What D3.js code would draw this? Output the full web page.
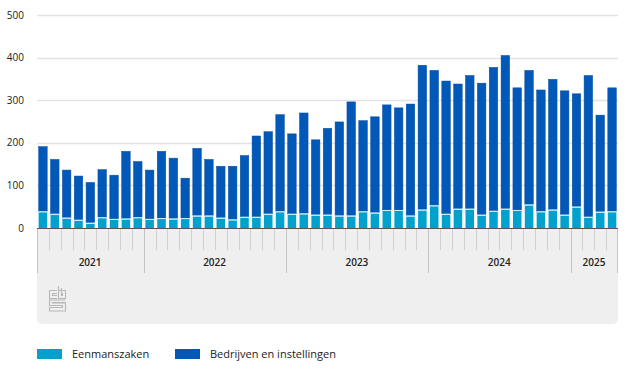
<!DOCTYPE html>
<html><head><meta charset="utf-8">
<script src="https://cdn.jsdelivr.net/npm/d3@7"></script>
<style>
html,body{margin:0;padding:0;background:#fff;}
svg{display:block;font-family:"Open Sans",sans-serif;}
</style></head>
<body><svg id="c" width="625" height="369"></svg>
<script>
const periods = [
 "2021-04","2021-05","2021-06","2021-07","2021-08","2021-09","2021-10","2021-11","2021-12",
 "2022-01","2022-02","2022-03","2022-04","2022-05","2022-06","2022-07","2022-08","2022-09","2022-10","2022-11","2022-12",
 "2023-01","2023-02","2023-03","2023-04","2023-05","2023-06","2023-07","2023-08","2023-09","2023-10","2023-11","2023-12",
 "2024-01","2024-02","2024-03","2024-04","2024-05","2024-06","2024-07","2024-08","2024-09","2024-10","2024-11","2024-12",
 "2025-01","2025-02","2025-03","2025-04"];
const eenmanszaken = [37,31,22,17,10,23,19,20,23,19,21,20,21,27,27,22,18,24,24,31,37,31,32,29,29,27,27,37,34,40,40,27,41,51,31,43,43,29,38,43,40,53,37,41,29,48,24,36,37];
const bedrijven = [154,130,114,105,97,114,105,160,133,117,159,144,96,160,134,123,127,146,192,195,229,190,238,178,205,222,269,215,227,249,242,264,341,319,314,295,315,311,339,362,289,317,287,308,293,267,334,229,292];
const years = ["2021","2022","2023","2024","2025"];
const yTicks = [0,100,200,300,400,500];
const seriesNames = ["Eenmanszaken","Bedrijven en instellingen"];
const colors = ["#00a1cd","#0058b8"];

const svg = d3.select("#c");
const L = 37, R = 618, T = 15, B = 228;
const x = d3.scaleBand().domain(periods).range([L, R]).paddingInner(0.28).paddingOuter(0.14);
const y = d3.scaleLinear().domain([0, 500]).range([B, T]);

// gridlines
svg.append("g").selectAll("line").data(yTicks.filter(d=>d>0)).join("line")
  .attr("x1", L).attr("x2", R).attr("y1", d=>Math.round(y(d))+0.5).attr("y2", d=>Math.round(y(d))+0.5)
  .attr("stroke", "#e3e3e3").attr("stroke-width", 1.3);

// y labels
svg.append("g").selectAll("text").data(yTicks).join("text")
  .attr("x", 24).attr("y", d=>y(d)).attr("dy", "0.35em").attr("text-anchor", "end")
  .attr("font-size", 10).attr("font-weight", 500).attr("fill", "#222").text(d=>d);

// x panel
const panelTop = B, panelBottom = 324;
const panelPath = d3.path();
const r = 6;
panelPath.moveTo(L, panelTop);
panelPath.lineTo(R, panelTop);
panelPath.lineTo(R, panelBottom - r);
panelPath.quadraticCurveTo(R, panelBottom, R - r, panelBottom);
panelPath.lineTo(L + r, panelBottom);
panelPath.quadraticCurveTo(L, panelBottom, L, panelBottom - r);
panelPath.closePath();
svg.append("path").attr("d", panelPath.toString()).attr("fill", "#efefef");

// month ticks
const step = x.step();
svg.append("g").selectAll("line").data(periods).join("line")
  .attr("x1", (d,i)=>Math.round(L + i*step)+0.5).attr("x2", (d,i)=>Math.round(L + i*step)+0.5)
  .attr("y1", B).attr("y2", d=> d.endsWith("-01") || d===periods[0] ? 273 : 250)
  .attr("stroke", d=> d.endsWith("-01") || d===periods[0] ? "#c4c4c4" : "#cfcfcf").attr("stroke-width", 1);
svg.append("line").attr("x1", R-0.5).attr("x2", R-0.5).attr("y1", B).attr("y2", 273).attr("stroke", "#c4c4c4");

// year labels
years.forEach(yr => {
  const ps = periods.filter(p=>p.startsWith(yr));
  const x0 = x(ps[0]) - x.step()*x.paddingInner()/2 - 0.5;
  const x1 = x(ps[ps.length-1]) + x.bandwidth() + x.step()*x.paddingInner()/2;
  svg.append("text").attr("x", (x0+x1)/2).attr("y", 266).attr("text-anchor","middle")
    .attr("font-size", 10).attr("font-weight", 600).attr("fill", "#222").text(yr);
});

// bars
const stackData = periods.map((p,i)=>({p, a: eenmanszaken[i], b: bedrijven[i]}));
const g = svg.append("g");
g.selectAll("rect.b").data(stackData).join("rect").attr("class","b")
  .attr("x", d=>x(d.p)).attr("width", x.bandwidth())
  .attr("y", d=>y(d.a+d.b)).attr("height", d=>y(d.a)-y(d.a+d.b)-1)
  .attr("fill", colors[1]).attr("stroke", "#0a4da0").attr("stroke-width", 0.5);
g.selectAll("rect.a").data(stackData).join("rect").attr("class","a")
  .attr("x", d=>x(d.p)).attr("width", x.bandwidth())
  .attr("y", d=>y(d.a)).attr("height", d=>y(0)-y(d.a))
  .attr("fill", colors[0]);
g.selectAll("line.sep").data(stackData).join("line").attr("class","sep")
  .attr("x1", d=>x(d.p)).attr("x2", d=>x(d.p)+x.bandwidth())
  .attr("y1", d=>y(d.a)-0.5).attr("y2", d=>y(d.a)-0.5)
  .attr("stroke", "#c8f0fa").attr("stroke-width", 1);

// axis line
svg.append("line").attr("x1", L).attr("x2", R).attr("y1", B+0.5).attr("y2", B+0.5)
  .attr("stroke", "#555").attr("stroke-width", 1);

// cbs logo
const logo = svg.append("g").attr("transform","translate(49,286)")
  .attr("fill","none").attr("stroke","#b8b8b8").attr("stroke-width",1.1);
logo.append("path").attr("d","M8,4.5 H0.5 V12.5 H8 M8,7.5 H3.5 V9.5 H8");
logo.append("path").attr("d","M9.5,0 V12.5 H16.5 V4.5 H9.5 M12.5,2 V9.5 H13.5 V7.5 H12.5");
logo.append("path").attr("d","M16.5,14 H0.5 V19.5 H13.5 V21.5 H0.5 V25 H16.5 V17 H3.5 V16.5 H16.5");
// legend
const leg = svg.append("g");
const legItems = [{n: seriesNames[0], c: colors[0], x: 37}, {n: seriesNames[1], c: colors[1], x: 175}];
legItems.forEach(it=>{
  leg.append("rect").attr("x", it.x).attr("y", 349).attr("width", 25).attr("height", 10).attr("fill", it.c);
  leg.append("text").attr("x", it.x+35).attr("y", 357.5).attr("font-size", 11).attr("fill","#222").text(it.n);
});
</script></body></html>
